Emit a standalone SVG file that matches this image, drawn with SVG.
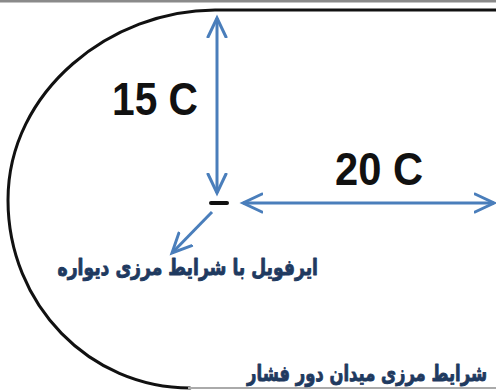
<svg xmlns="http://www.w3.org/2000/svg" width="496" height="392" viewBox="0 0 496 392">
<style>
.bnd{fill:none;stroke:#111;stroke-width:3;stroke-linecap:round}
.arr{fill:none;stroke:#4a7ebb;stroke-width:3;marker-end:url(#head)}
.arr2{fill:none;stroke:#4a7ebb;stroke-width:3;marker-start:url(#head);marker-end:url(#head)}
.lat{font-family:"Liberation Sans",Arial,sans-serif;font-weight:bold;font-size:47px;fill:#111}
.fa{font-family:"DejaVu Sans",sans-serif;font-weight:bold;font-size:22px;fill:#1f3a60;stroke:#1f3a60;stroke-width:0.9px;stroke-linejoin:round;text-anchor:end}
</style>
<defs>
<marker id="head" markerUnits="userSpaceOnUse" markerWidth="24" markerHeight="24" refX="20" refY="10" orient="auto-start-reverse" viewBox="0 0 24 20">
<path d="M1,1 L20,10 L1,19" fill="none" stroke="#4a7ebb" stroke-width="3" stroke-linecap="round" stroke-linejoin="miter"/>
</marker>
</defs>
<rect x="0" y="0" width="496" height="2.5" fill="#8a8a8a"/>
<g id="domain">
<path class="bnd" d="M496 10 L215 10 C112 10 8 90 8 200 C8 305 90 388 190 388"/>
<line x1="188" y1="388" x2="496" y2="388" stroke="#aaa" stroke-width="2"/>
</g>
<g id="airfoil">
<line x1="211" y1="203" x2="227" y2="203" stroke="#111" stroke-width="4" stroke-linecap="round"/>
</g>
<g id="connectors">
<line class="arr2" x1="217" y1="18" x2="217" y2="193"/>
<line class="arr2" x1="243" y1="203" x2="494" y2="203"/>
<line class="arr" x1="212" y1="212" x2="172" y2="253"/>
</g>
<g id="label-15c"><text class="lat" x="112" y="115" textLength="86" lengthAdjust="spacingAndGlyphs">15 C</text></g>
<g id="label-20c"><text class="lat" x="335" y="185" textLength="88" lengthAdjust="spacingAndGlyphs">20 C</text></g>
<g id="label-airfoil"><text class="fa" transform="translate(318,275) scale(0.78,1)" x="0" y="0">ایرفویل با شرایط مرزی دیواره</text></g>
<g id="label-farfield"><text class="fa" transform="translate(487,381) scale(0.745,1)" x="0" y="0">شرایط مرزی میدان دور فشار</text></g>
</svg>
